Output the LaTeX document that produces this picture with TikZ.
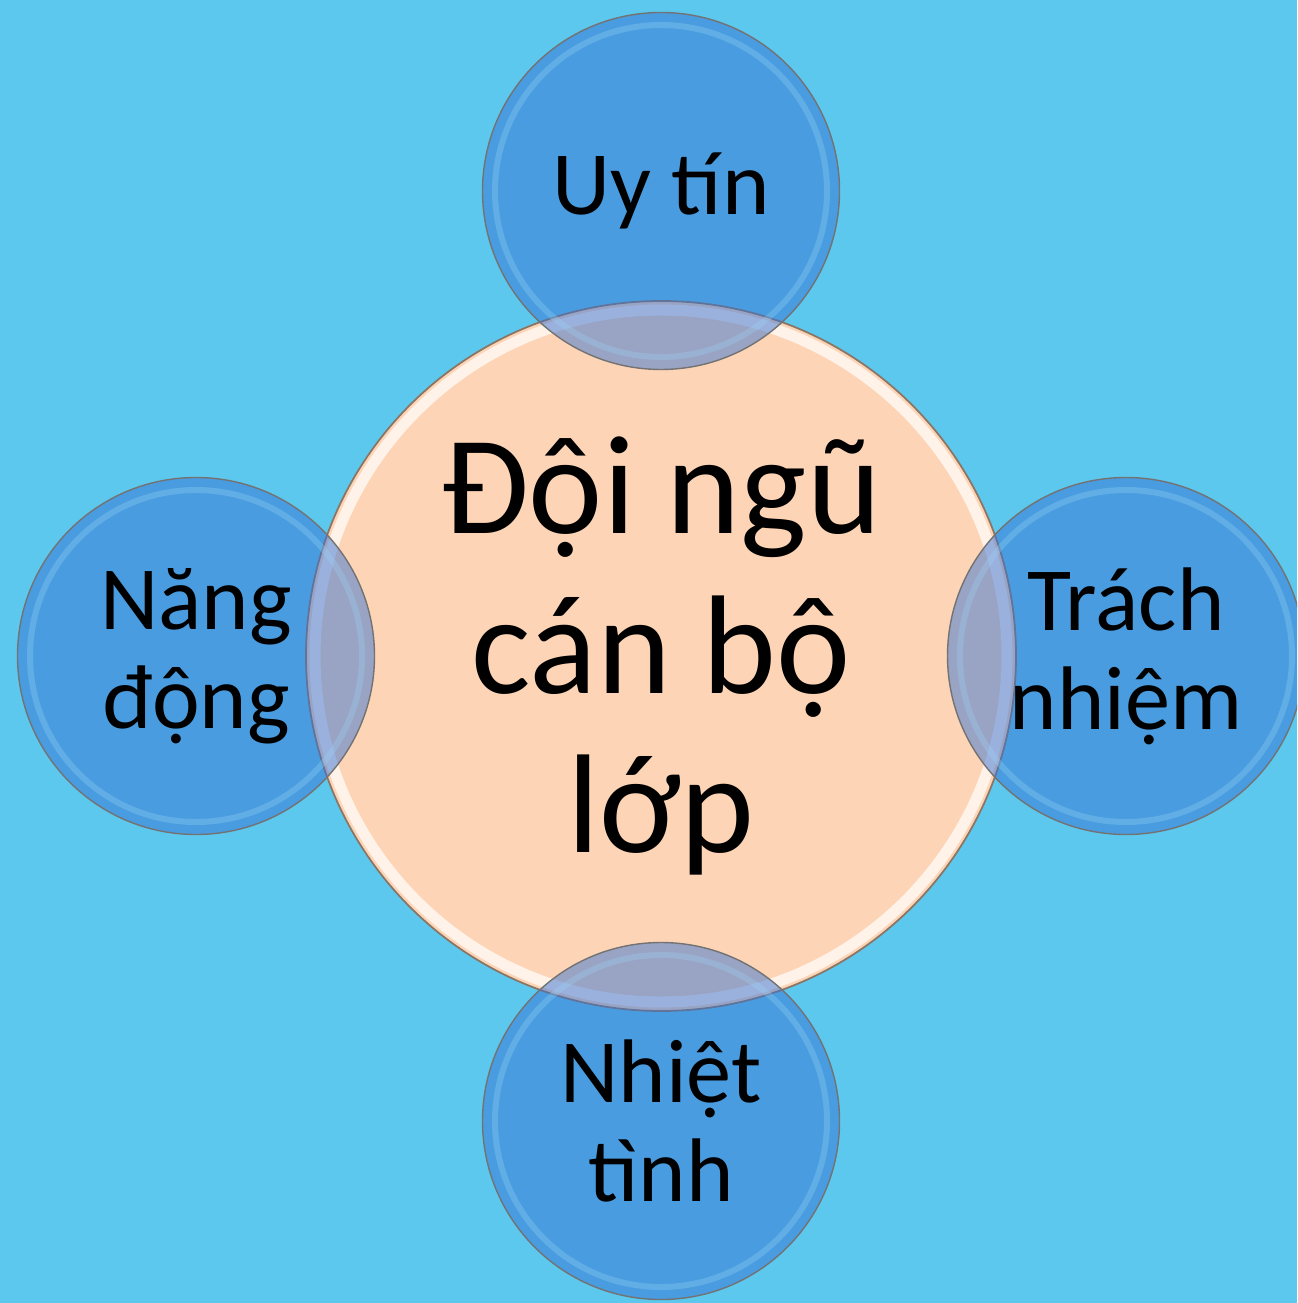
\documentclass[tikz,border=0pt]{standalone}
\usepackage{fontspec}
\setmainfont{Carlito}
\usetikzlibrary{positioning,shapes.geometric}
\definecolor{bgBlue}{HTML}{5DC8EE}
\definecolor{petalBlue}{HTML}{3772D2}
\definecolor{petalRim}{HTML}{9AD6F6}
\definecolor{corePeach}{HTML}{FDD5B6}
\tikzset{
  ring/core/.style={circle, draw=corePeach!55!black, line width=0.5pt, fill=corePeach, minimum size=71mm, inner sep=0pt, align=center, font=\fontsize{40}{45.5}\selectfont,
    path picture={\draw[white, opacity=0.7, line width=1.1mm] (path picture bounding box.center) circle (34.6mm);}},
  ring/petal/.style={circle, draw=black!55, line width=0.4pt, fill=petalBlue, fill opacity=0.5, text opacity=1, minimum size=35.7mm, inner sep=0pt, align=center, font=\fontsize{25.7}{28.2}\selectfont,
    path picture={\draw[petalRim, draw opacity=0.3, line width=0.6mm] (path picture bounding box.center) circle (16.6mm);}}
}
\begin{document}
\begin{tikzpicture}[node distance=4.65cm, on grid]
  \clip (0,0) rectangle (12.97,-13.03);
  \fill[bgBlue] (0,0) rectangle (12.97,-13.03);
  \node[ring/core] (team) at (6.61,-6.56) {Đội ngũ\\cán bộ\\lớp};
  \node[ring/petal, above=of team] (trust) {Uy tín};
  \node[ring/petal, right=of team] (duty) {Trách\\nhiệm};
  \node[ring/petal, below=of team] (zeal) {Nhiệt\\tình};
  \node[ring/petal, left=of team] (drive) {Năng\\động};
\end{tikzpicture}
\end{document}
